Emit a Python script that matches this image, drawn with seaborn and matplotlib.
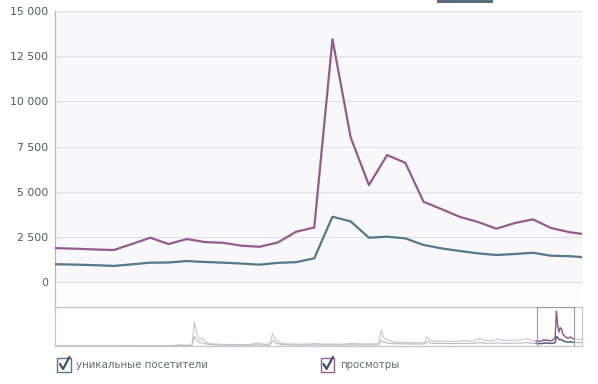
import numpy as np
import pandas as pd
import matplotlib
matplotlib.use("Agg")
import matplotlib.pyplot as plt
import matplotlib.ticker as mticker
from matplotlib.patches import Rectangle
from matplotlib.lines import Line2D
import seaborn as sns

# --- data: last 30 days (main view) ---
main_days = list(range(-1, 30))
views = [1900, 1870, 1840, 1800, 1770, 2110, 2450, 2100, 2380, 2210, 2170,
         2010, 1950, 2190, 2780, 3020, 13440, 8000, 5365, 7025, 6600, 4440,
         4030, 3600, 3320, 2950, 3260, 3470, 2990, 2760, 2620]
visitors = [990, 980, 960, 930, 890, 980, 1070, 1080, 1160, 1110, 1070,
            1020, 960, 1060, 1100, 1310, 3615, 3355, 2450, 2510, 2415, 2050,
            1860, 1715, 1585, 1495, 1550, 1620, 1455, 1430, 1360]

# --- data: full history (navigator), sampled days ---
hist_days = [0, 88, 95, 98, 101, 107, 109, 111, 113, 115, 118, 122, 135, 150,
             156, 159, 163, 168, 170, 172, 174, 178, 190, 200, 203, 208, 225,
             233, 238, 250, 253, 255, 257, 260, 265, 275, 285, 289, 291, 293,
             297, 305, 312, 320, 326, 332, 336, 342, 346, 350, 358, 364, 369,
             372, 375]
hist_views = [0, 50, 300, 500, 300, 350, 9200, 4500, 2600, 3000, 1500, 800,
              600, 500, 900, 1100, 700, 800, 4900, 2400, 1800, 900, 700, 800,
              1000, 750, 700, 1000, 800, 800, 900, 6100, 3200, 2300, 1600,
              1300, 1200, 1300, 3500, 2200, 1800, 1900, 1700, 2100, 1800,
              2900, 2100, 2000, 2700, 2100, 2200, 2300, 2900, 2200, 1950]
hist_visitors = [0, 30, 150, 250, 150, 200, 3600, 2200, 1300, 1200, 800, 450,
                 350, 300, 400, 500, 350, 400, 2000, 1200, 900, 500, 400, 400,
                 450, 400, 400, 450, 400, 420, 450, 2200, 1500, 1100, 900, 800,
                 750, 800, 1700, 1200, 1000, 1000, 950, 1050, 1000, 1300, 1050,
                 1050, 1250, 1050, 1100, 1150, 1300, 1050, 1000]
tail_days = [409, 412]
tail_views = [2550, 2500]
tail_visitors = [1330, 1300]

start_day = 377  # day index of main_days == 0 in the history
y_ticks = [0, 2500, 5000, 7500, 10000, 12500, 15000]

labels = ["уникальные посетители", "просмотры"]
c_vis = "#52788a"
c_views = "#955a8e"

sns.set_style("white")
plt.rcParams["font.family"] = ["DejaVu Sans"]

W, H = 598, 384
fig = plt.figure(figsize=(W / 100, H / 100), dpi=100)


def fx(x):
    return x / W


def fy(y):
    return 1 - y / H


# main chart
ax = fig.add_axes([fx(55), fy(307), fx(582) - fx(55), fy(11) - fy(307)])
ax.set_facecolor("#f8f8fa")
ax.axhspan(-2000, 0, color="#fdfdfd", zorder=0)
for t in y_ticks:
    ax.axhline(t, color="#e2e2e6", lw=0.9, zorder=1)

main = pd.DataFrame({"day": main_days, "views": views, "visitors": visitors})
sns.lineplot(data=main, x="day", y="views", ax=ax, color=c_views, lw=1.6, zorder=3)
sns.lineplot(data=main, x="day", y="visitors", ax=ax, color=c_vis, lw=1.6, zorder=3)

ax.set_xlim(-0.234, 28.7)
ax.set_ylim(-1383, 15000)
ax.set_yticks(y_ticks)
ax.yaxis.set_major_formatter(mticker.FuncFormatter(lambda v, p: f"{int(v):,}".replace(",", " ")))
ax.tick_params(axis="y", length=0, pad=5, labelsize=7.8, labelcolor="#4f5760")
ax.set_xticks([])
ax.set_xlabel("")
ax.set_ylabel("")
for s in ["top", "right", "bottom"]:
    ax.spines[s].set_visible(False)
ax.spines["left"].set_color("#b9b9be")
ax.spines["left"].set_linewidth(0.9)

# navigator
nav = fig.add_axes([fx(55), fy(346), fx(582) - fx(55), fy(307) - fy(346)])
nav.set_facecolor("white")
all_days = hist_days + [start_day + d for d in main_days] + tail_days
all_views = hist_views + views + tail_views
all_vis = hist_visitors + visitors + tail_visitors
hist = pd.DataFrame({"day": all_days, "views": all_views, "visitors": all_vis})
sns.lineplot(data=hist, x="day", y="views", ax=nav, color="#c9c3d1", lw=0.8)
sns.lineplot(data=hist, x="day", y="visitors", ax=nav, color="#b9b9c6", lw=0.8)

win = main.assign(day=main["day"] + start_day)
sns.lineplot(data=win, x="day", y="views", ax=nav, color=c_views, lw=1.0)
sns.lineplot(data=win, x="day", y="visitors", ax=nav, color="#4d6478", lw=1.0)
nav.add_patch(Rectangle((start_day - 0.234, 0), 28.934, 15000, fill=False,
                        ec="#9a9aa2", lw=0.8, zorder=5))
nav.set_xlim(0, 412)
nav.set_ylim(0, 15000)
nav.set_xticks([])
nav.set_yticks([])
nav.set_xlabel("")
nav.set_ylabel("")
for s in nav.spines.values():
    s.set_color("#c6c6cc")
    s.set_linewidth(0.9)

# legend checkboxes
for (x0, label, col) in [(57, labels[0], c_vis), (320.5, labels[1], c_views)]:
    fig.add_artist(Rectangle((fx(x0), fy(372)), fx(13.5), fy(358) - fy(372),
                             fill=True, fc="white", ec=col, lw=1.0))
    fig.add_artist(Line2D([fx(x0 + 3), fx(x0 + 6), fx(x0 + 12.5)],
                          [fy(364), fy(369), fy(357)], color="#3f5068", lw=1.6))
    fig.text(fx(x0 + 19.5), fy(364.5), label, fontsize=7.4, color="#666c73",
             ha="left", va="center")

# piece of a button at the top edge
fig.add_artist(Rectangle((fx(437), fy(2.5)), fx(56), fy(0) - fy(2.5),
                         fc="#5d6b7c", ec="none"))

fig.savefig("out.png", dpi=100)
